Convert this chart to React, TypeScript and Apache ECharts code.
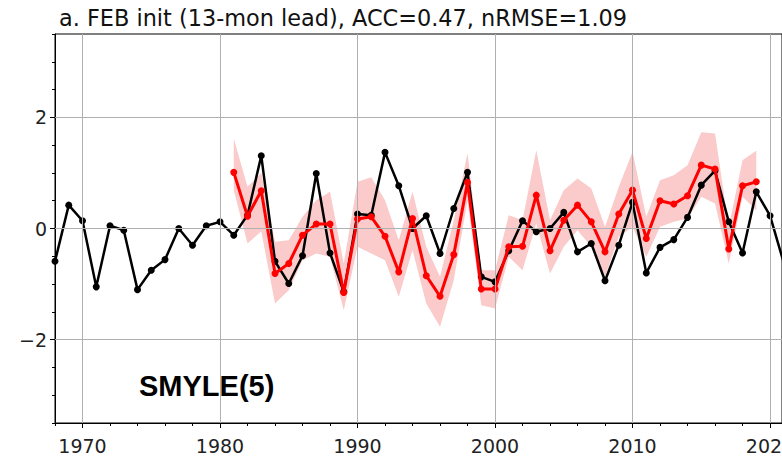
import React, { useEffect, useRef } from "react";
import * as echarts from "echarts";

const TITLE = "a. FEB init (13-mon lead), ACC=0.47, nRMSE=1.09";
const LABEL = "SMYLE(5)";

const obsStart = 1968;
const obsValues = [
  -0.59, 0.42, 0.14, -1.05, 0.05, -0.03, -1.1, -0.75, -0.56, 0.0,
  -0.3, 0.05, 0.12, -0.12, 0.24, 1.31, -0.59, -0.99, -0.49, 0.99,
  -0.44, -1.14, 0.26, 0.24, 1.37, 0.77, 0.0, 0.23, -0.45, 0.36,
  1.01, -0.87, -0.96, -0.4, 0.14, -0.06, 0.0, 0.29, -0.42, -0.27,
  -0.94, -0.3, 0.47, -0.8, -0.34, -0.2, 0.2, 0.78, 1.04, 0.12,
  -0.44, 0.66, 0.23, -0.62,
];

const fcStart = 1981;
const fcValues = [
  1.01, 0.22, 0.68, -0.81, -0.63, -0.12, 0.08, 0.08, -1.15, 0.17,
  0.21, -0.14, -0.78, 0.18, -0.85, -1.22, -0.47, 0.83, -1.09, -1.09,
  -0.33, -0.32, 0.6, -0.4, 0.15, 0.42, 0.12, -0.42, 0.26, 0.69,
  -0.18, 0.5, 0.44, 0.59, 1.14, 1.07, -0.37, 0.77, 0.84,
];
const fcUpper = [
  1.62, 0.75, 1.0, -0.24, -0.21, 0.21, 0.51, 0.66, -0.63, 0.84,
  0.92, 0.51, -0.21, 0.66, -0.33, -0.87, 0.15, 1.36, -0.75, -0.75,
  0.24, 0.15, 1.41, 0.15, 0.69, 0.9, 0.72, 0.03, 0.75, 1.38,
  0.21, 0.87, 0.96, 1.14, 1.73, 1.71, 0.03, 1.23, 1.4,
];
const fcLower = [
  0.69, -0.27, -0.05, -1.35, -1.11, -0.57, -0.45, -0.51, -1.47, -0.33,
  -0.45, -0.57, -1.23, -0.39, -1.35, -1.77, -0.93, 0.51, -1.38, -1.44,
  -0.51, -0.75, 0.09, -0.81, -0.33, -0.03, -0.33, -0.87, -0.15, 0.03,
  -0.51, 0.03, 0.12, 0.18, 0.57, 0.45, -0.63, 0.57, 0.33,
];

const xMajorTicks = [1970, 1980, 1990, 2000, 2010, 2020];
const yMajorTicks = [-2, 0, 2];

const FONT = "DejaVu Sans";
const X_MIN = 1968;
const X_MAX = 2020.87;

export default function App() {
  const ref = useRef<HTMLDivElement>(null);
  useEffect(() => {
    document.body.style.margin = "0";
    if (!ref.current) return;
    const chart = echarts.init(ref.current, null, { renderer: "svg" });
    const obs = obsValues.map((v, i) => [obsStart + i, v]);
    const fc = fcValues.map((v, i) => [fcStart + i, v]);
    const band = fcValues.map((_, i) => [fcStart + i, fcLower[i], fcUpper[i]]);
    const gridLineData = [
      ...xMajorTicks.map((x) => ({ xAxis: x })),
      ...yMajorTicks.map((y) => ({ yAxis: y })),
    ];
    const minorX: number[] = [];
    for (let y = 1968; y <= 2020; y += 2) minorX.push(y);
    const minorY: number[] = [];
    for (let v = -3.5; v <= 3.5001; v += 0.5) minorY.push(Math.round(v * 10) / 10);

    chart.setOption({
      animation: false,
      title: {
        text: TITLE,
        left: 54,
        top: 2,
        textStyle: { fontFamily: FONT, fontSize: 22.4, fontWeight: "normal", color: "#111" },
      },
      graphic: [
        {
          type: "text",
          left: 139,
          top: 371,
          style: {
            text: LABEL,
            fontFamily: "Liberation Sans",
            fontWeight: "bold",
            fontSize: 29,
            fill: "#000",
          },
          z: 100,
        },
      ],
      grid: {
        left: 55,
        top: 34,
        right: 0,
        height: 389,
        outerBoundsMode: "none",
        containLabel: false,
        show: true,
        borderColor: "#000",
        borderWidth: 1,
        backgroundColor: "transparent",
      },
      xAxis: [
        {
          type: "value",
          min: X_MIN,
          max: X_MAX,
          position: "bottom",
          axisLine: { show: true, onZero: false, lineStyle: { color: "#000", width: 1 } },
          axisTick: { show: true, length: 3, lineStyle: { color: "#000" }, customValues: minorX },
          axisLabel: { show: false },
          splitLine: { show: false },
        },
        {
          type: "value",
          min: X_MIN,
          max: X_MAX,
          position: "bottom",
          axisLine: { show: false, onZero: false },
          axisTick: { show: true, length: 5, lineStyle: { color: "#000" }, customValues: xMajorTicks },
          axisLabel: {
            show: true,
            customValues: xMajorTicks,
            fontFamily: FONT,
            fontSize: 19,
            color: "#222",
            margin: 13,
            hideOverlap: false,
            formatter: (v: number) => String(v),
          },
          splitLine: { show: false },
        },
      ],
      yAxis: [
        {
          type: "value",
          min: -3.5,
          max: 3.5,
          position: "left",
          axisLine: { show: true, onZero: false, lineStyle: { color: "#000", width: 1 } },
          axisTick: { show: true, length: 3, lineStyle: { color: "#000" }, customValues: minorY },
          axisLabel: { show: false },
          splitLine: { show: false },
        },
        {
          type: "value",
          min: -3.5,
          max: 3.5,
          position: "left",
          axisLine: { show: false, onZero: false },
          axisTick: { show: true, length: 5, lineStyle: { color: "#000" }, customValues: yMajorTicks },
          axisLabel: {
            show: true,
            customValues: yMajorTicks,
            fontFamily: FONT,
            fontSize: 19,
            color: "#222",
            margin: 8,
            formatter: (v: number) => (v < 0 ? "\u2212" + Math.abs(v) : String(v)),
          },
          splitLine: { show: false },
        },
      ],
      series: [
        {
          type: "custom",
          name: "spread",
          data: band,
          silent: true,
          z: 1,
          clip: true,
          renderItem: (params: any, api: any) => {
            if (params.dataIndex !== 0) return null;
            const up = band.map((d) => api.coord([d[0], d[2]]));
            const lo = band.map((d) => api.coord([d[0], d[1]])).reverse();
            return {
              type: "polygon",
              shape: { points: [...up, ...lo] },
              style: { fill: "#fbcaca", stroke: "none" },
            };
          },
        },
        {
          type: "line",
          name: "grid",
          data: [],
          silent: true,
          z: 2,
          markLine: {
            silent: true,
            symbol: ["none", "none"],
            label: { show: false },
            lineStyle: { color: "#b0b0b0", width: 1, type: "solid" },
            emphasis: { disabled: true },
            data: gridLineData,
          },
        },
        {
          type: "line",
          name: "obs",
          data: obs,
          symbol: "circle",
          symbolSize: 7,
          itemStyle: { color: "#000" },
          lineStyle: { color: "#000", width: 2.5 },
          clip: true,
          z: 3,
        },
        {
          type: "line",
          name: "SMYLE",
          data: fc,
          symbol: "circle",
          symbolSize: 7,
          itemStyle: { color: "#ff0000" },
          lineStyle: { color: "#ff0000", width: 3 },
          z: 4,
        },
      ],
    });
    return () => chart.dispose();
  }, []);
  return <div ref={ref} style={{ width: 782, height: 458 }} />;
}
